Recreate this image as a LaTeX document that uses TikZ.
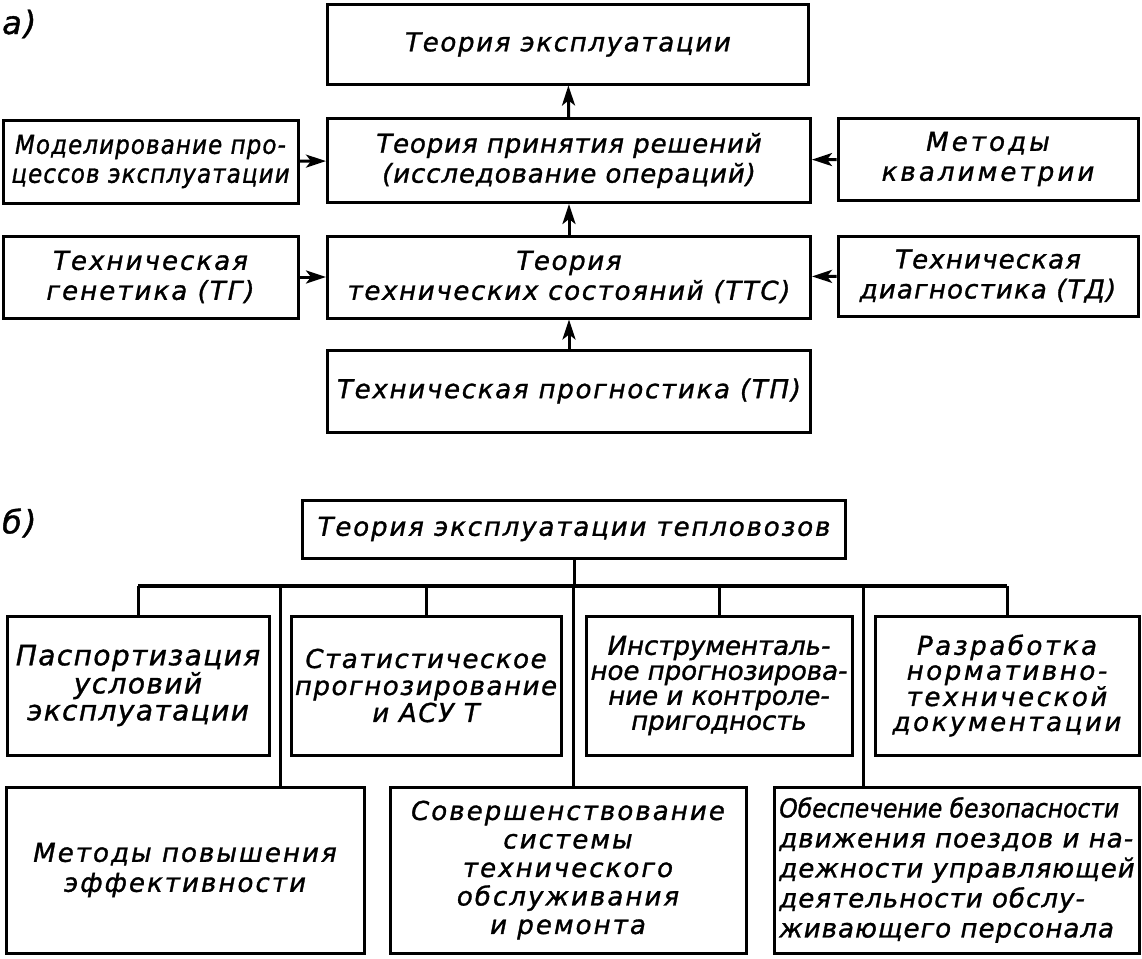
\documentclass[tikz,border=0pt]{standalone}
\usepackage{fontspec}
\setmainfont{DejaVu Sans}[LetterSpace=6.5,FakeBold=1.2]
\usetikzlibrary{arrows.meta}
\newcommand{\ls}[1]{\addfontfeature{LetterSpace=#1}}
\newcommand{\narrowls}[2]{\addfontfeature{FakeStretch=#1,LetterSpace=#2}}
\tikzset{
  box/.style={draw, line width=3pt, inner sep=0pt, align=center,
    font=\itshape\fontsize{26}{29}\selectfont},
  arr/.style={line width=3pt, -{Stealth[length=20pt,width=13pt,inset=5pt]}},
  ln/.style={line width=3pt},
  bus/.style={line width=4.2pt},
  lbl/.style={font=\itshape\fontsize{32}{34}\selectfont, inner sep=0pt}
}
\begin{document}
\begin{tikzpicture}[x=1pt,y=-1pt]
\useasboundingbox (0,0) rectangle (1142,958);
% ---------- part a ----------
\node[lbl, anchor=west] (la) at (2,24) {а)};
\node[box, minimum width=481pt, minimum height=79pt] (te) at (568,44.5) {Теория эксплуатации};
\node[box, minimum width=483pt, minimum height=84pt, font=\itshape\fontsize{26}{30}\selectfont\ls{3.5}] (tpr) at (569,160.5) {Теория принятия решений\\(исследование операций)};
\node[box, minimum width=295pt, minimum height=83pt, font=\itshape\fontsize{26}{29}\selectfont\narrowls{0.88}{4.5}] (mod) at (150.5,161.5) {Моделирование про-\\цессов эксплуатации};
\node[box, minimum width=300pt, minimum height=82pt, font=\itshape\fontsize{26}{30}\selectfont\ls{12}] (kval) at (988,159) {Методы\\квалиметрии};
\node[box, minimum width=295pt, minimum height=82pt, font=\itshape\fontsize{26}{30}\selectfont\ls{8}] (gen) at (150.5,277) {Техническая\\генетика (ТГ)};
\node[box, minimum width=483pt, minimum height=82pt, font=\itshape\fontsize{26}{30}\selectfont\ls{6.4}] (tts) at (569,277) {Теория\\технических состояний (ТТС)};
\node[box, minimum width=300pt, minimum height=80pt, font=\itshape\fontsize{26}{30}\selectfont\ls{4.5}] (diag) at (988,276) {Техническая\\диагностика (ТД)};
\node[box, minimum width=483pt, minimum height=82pt, font=\itshape\fontsize{26}{29}\selectfont\ls{6.7}] (prog) at (569,391) {Техническая прогностика (ТП)};
\draw[arr] (prog) -- (tts);
\draw[arr] (tts) -- (tpr);
\draw[arr] (tpr) -- (te);
\draw[arr] (mod) -- (tpr);
\draw[arr] (kval) -- (tpr);
\draw[arr] (gen) -- (tts);
\draw[arr] (diag) -- (tts);
% ---------- part b ----------
\node[lbl, anchor=west] (lb) at (2,523) {б)};
\node[box, minimum width=543pt, minimum height=58pt, font=\itshape\fontsize{26}{29}\selectfont\ls{7.2}] (tb) at (574,529) {Теория эксплуатации тепловозов};
\node[box, minimum width=262pt, minimum height=139pt, font=\itshape\fontsize{28}{27}\selectfont\ls{5}] (t1) at (138,685.5) {Паспортизация\\условий\\эксплуатации};
\node[box, minimum width=270pt, minimum height=139pt, font=\itshape\fontsize{26}{27}\selectfont\ls{6}] (t2) at (426,685.5) {Статистическое\\прогнозирование\\и АСУ Т};
\node[box, minimum width=266pt, minimum height=139pt, font=\itshape\fontsize{26}{25}\selectfont\ls{0}] (t3) at (719,685.5) {Инструменталь-\\ное прогнозирова-\\ние и контроле-\\пригодность};
\node[box, minimum width=264pt, minimum height=139pt, font=\itshape\fontsize{26}{25}\selectfont\ls{10}] (t4) at (1007,685.5) {Разработка\\нормативно-\\технической\\документации};
\node[box, minimum width=358pt, minimum height=166pt, font=\itshape\fontsize{26}{30}\selectfont\ls{8}] (m1) at (185,870) {Методы повышения\\эффективности};
\node[box, minimum width=356pt, minimum height=166pt, font=\itshape\fontsize{26}{28.5}\selectfont\ls{8}] (m2) at (568,870) {Совершенствование\\системы\\технического\\обслуживания\\и ремонта};
\node[box, minimum width=365pt, minimum height=166pt, align=left, font=\itshape\fontsize{26}{30}\selectfont\ls{4}] (m3) at (957,870) {{\narrowls{0.9}{0}Обеспечение безопасности}\\движения поездов и на-\\дежности управляющей\\деятельности обслу-\\живающего персонала};
\coordinate (bl) at (138,586);
\coordinate (br) at (1007,586);
\coordinate (g1) at (280,586);
\coordinate (g2) at (573.5,586);
\coordinate (g3) at (863,586);
\draw[ln] (tb.south) -- (tb.south |- bl);
\draw[bus] (bl) -- (br);
\draw[ln] (bl) -- (t1.north);
\draw[ln] (t2.north |- bl) -- (t2.north);
\draw[ln] (t3.north |- bl) -- (t3.north);
\draw[ln] (br) -- (t4.north);
\draw[ln] (g1) -- (g1 |- m1.north);
\draw[ln] (g2) -- (g2 |- m2.north);
\draw[ln] (g3) -- (g3 |- m3.north);
\end{tikzpicture}
\end{document}
